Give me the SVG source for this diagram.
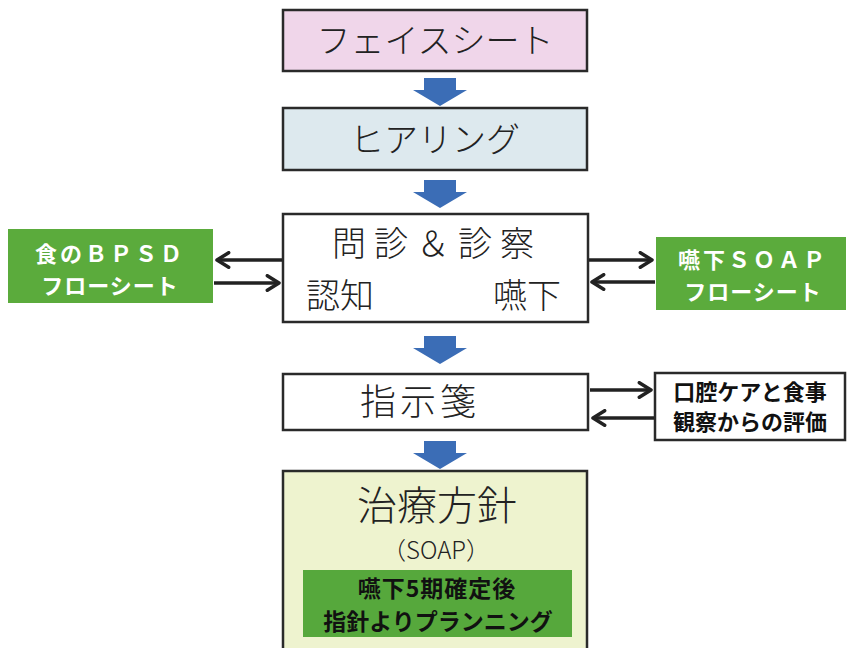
<svg xmlns="http://www.w3.org/2000/svg" width="849" height="648" viewBox="0 0 849 648">
<style>
.box{stroke:#2a2a2a;stroke-width:2.5}
.t{font-family:"Noto Sans CJK JP","Liberation Sans",sans-serif;fill:#222;text-anchor:middle;font-weight:300}
.g{fill:#5bab3c}
.wt{font-family:"Noto Sans CJK JP","Liberation Sans",sans-serif;fill:#fff;font-weight:700;font-size:22px;text-anchor:middle}
.bt{font-family:"Noto Sans CJK JP","Liberation Sans",sans-serif;fill:#111;font-weight:700;font-size:22px;text-anchor:middle}
.blue{fill:#3b6db6}
.con{stroke:#222;stroke-width:3.5;fill:none;marker-end:url(#ch)}
</style>
<defs>
<marker id="ch" viewBox="0 0 12 12" refX="10" refY="6" markerWidth="5" markerHeight="5" orient="auto" markerUnits="strokeWidth">
<path d="M2,1 L10,6 L2,11" fill="none" stroke="#222" stroke-width="2.4" stroke-linecap="round" stroke-linejoin="round"/>
</marker>
<path id="barrow" d="M-16,0 H16 V12 H27 L0,28 L-27,12 H-16 Z"/>
</defs>
<rect width="849" height="648" fill="#fff"/>

<g id="face">
<rect class="box" x="283" y="10" width="304" height="61" fill="#f0d6ea"/>
<text class="t" x="435" y="53" font-size="34">フェイスシート</text>
</g>
<g id="hearing">
<rect class="box" x="283" y="108" width="304" height="62" fill="#dde9ee"/>
<text class="t" x="435" y="152" font-size="34">ヒアリング</text>
</g>
<g id="monshin">
<rect class="box" x="283" y="214" width="305" height="108" fill="#fff"/>
<text class="t" x="437" y="256" font-size="34" letter-spacing="8">問診＆診察</text>
<text class="t" x="340" y="308" font-size="34">認知</text>
<text class="t" x="527" y="308" font-size="34">嚥下</text>
</g>
<g id="bpsd">
<rect class="g" x="8" y="229" width="205" height="74"/>
<text class="wt" x="110" y="262" letter-spacing="3">食のＢＰＳＤ</text>
<text class="wt" x="110" y="294" letter-spacing="1">フローシート</text>
</g>
<g id="soapflow">
<rect class="g" x="656" y="237" width="190" height="73"/>
<text class="wt" x="753" y="268" letter-spacing="3">嚥下ＳＯＡＰ</text>
<text class="wt" x="753" y="300" letter-spacing="1">フローシート</text>
</g>
<g id="shijisen">
<rect class="box" x="283" y="374" width="305" height="56" fill="#fff"/>
<text class="t" x="420" y="415" font-size="36" letter-spacing="4">指示箋</text>
</g>
<g id="koukuu">
<rect class="box" x="655" y="373" width="190" height="67" fill="#fff"/>
<text class="bt" x="750" y="400">口腔ケアと食事</text>
<text class="bt" x="750" y="430">観察からの評価</text>
</g>
<g id="chiryou">
<rect class="box" x="283" y="471" width="304" height="190" fill="#eef3cf"/>
<text class="t" x="437" y="520" font-size="40">治療方針</text>
<text class="t" x="436" y="559" font-size="24">（SOAP）</text>
<rect x="303" y="570" width="269" height="67" fill="#56a83c"/>
<text class="bt" x="437" y="597" style="font-size:23px" letter-spacing="1">嚥下5期確定後</text>
<text class="bt" x="438" y="630" style="font-size:23px">指針よりプランニング</text>
</g>

<g id="connectors">
<use href="#barrow" class="blue" x="440" y="78"/>
<use href="#barrow" class="blue" x="440" y="180"/>
<use href="#barrow" class="blue" x="440" y="336"/>
<use href="#barrow" class="blue" x="440" y="441"/>
<line class="con" x1="282" y1="260" x2="217" y2="260"/>
<line class="con" x1="214" y1="283" x2="279" y2="283"/>
<line class="con" x1="589" y1="260" x2="652" y2="260"/>
<line class="con" x1="655" y1="282" x2="592" y2="282"/>
<line class="con" x1="590" y1="390" x2="651" y2="390"/>
<line class="con" x1="654" y1="418" x2="593" y2="418"/>
</g>
</svg>
